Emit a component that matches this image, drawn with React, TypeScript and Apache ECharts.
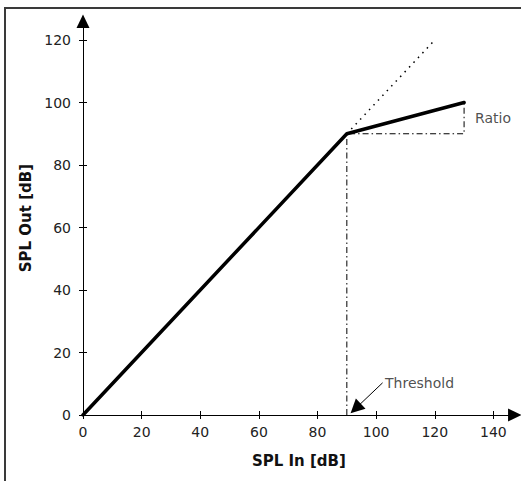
import React, { useEffect, useRef } from "react";
import * as echarts from "echarts";

// Tick values
const xTicks = [0, 20, 40, 60, 80, 100, 120, 140];
const yTicks = [0, 20, 40, 60, 80, 100, 120];

// Compressor transfer curve (input dB -> output dB)
const curveIn = [0, 90, 130];
const curveOut = [0, 90, 100];

// Unity (uncompressed) continuation above threshold
const unityIn = [90, 120];
const unityOut = [90, 120];

// Dash-dot guide lines (threshold drop line + ratio triangle)
const guideIn = [90, 90, 130, 130];
const guideOut = [0, 90, 90, 100];

// Annotation anchors (data coordinates)
const thresholdArrowFrom = [102.2, 10.3];
const thresholdArrowTo = [93.0, 2.1];
const annotationNames = ["Threshold", "Ratio"];
const annotationX = [102.7, 133.4];
const annotationY = [10.4, 95.1];

const X_MAX = 147.3;
const Y_MAX = 126;
const FONT = "DejaVu Sans";

export default function App() {
  const ref = useRef<HTMLDivElement>(null);

  useEffect(() => {
    if (!ref.current) return;
    const chart = echarts.init(ref.current, undefined, { renderer: "svg" });

    const zip = (a: number[], b: number[]) => a.map((v, i) => [v, b[i]]);

    const baseX = {
      type: "value" as const,
      min: 0,
      max: X_MAX,
      position: "bottom" as const,
      splitLine: { show: false },
    };
    const baseY = {
      type: "value" as const,
      min: 0,
      max: Y_MAX,
      position: "left" as const,
      splitLine: { show: false },
    };

    chart.setOption({
      animation: false,
      backgroundColor: "#ffffff",
      grid: { left: 83, right: 6.2, top: 21.25, bottom: 66 },
      graphic: [
        {
          type: "rect",
          shape: { x: 5, y: 8, width: 540, height: 500 },
          style: { fill: "none", stroke: "#3a3a3a", lineWidth: 2 },
          silent: true,
          z: -10,
        },
      ],
      xAxis: [
        {
          ...baseX,
          name: "SPL In [dB]",
          nameLocation: "middle",
          nameGap: 38,
          nameTextStyle: { fontFamily: FONT, fontWeight: "bold", fontSize: 15, color: "#111", verticalAlign: "top" },
          axisLine: {
            show: true,
            lineStyle: { color: "#000", width: 1 },
            symbol: ["none", "triangle"],
            symbolSize: [13, 13.5],
          },
          axisTick: { show: true, inside: false, length: 4, lineStyle: { color: "#000" }, customValues: xTicks },
          axisLabel: { fontFamily: FONT, fontSize: 14, color: "#222", margin: 10, customValues: xTicks },
        },
        {
          ...baseX,
          axisLine: { show: false },
          axisTick: { show: true, inside: true, length: 4, lineStyle: { color: "#000" }, customValues: xTicks },
          axisLabel: { show: false },
        },
      ],
      yAxis: [
        {
          ...baseY,
          name: "SPL Out [dB]",
          nameLocation: "middle",
          nameGap: 48,
          nameTextStyle: { fontFamily: FONT, fontWeight: "bold", fontSize: 15, color: "#111" },
          axisLine: {
            show: true,
            lineStyle: { color: "#000", width: 1 },
            symbol: ["none", "triangle"],
            symbolSize: [13, 13.5],
          },
          axisTick: { show: true, inside: false, length: 4, lineStyle: { color: "#000" }, customValues: yTicks },
          axisLabel: { fontFamily: FONT, fontSize: 14, color: "#222", margin: 12, customValues: yTicks },
        },
        {
          ...baseY,
          axisLine: { show: false },
          axisTick: { show: true, inside: true, length: 4, lineStyle: { color: "#000" }, customValues: yTicks },
          axisLabel: { show: false },
        },
      ],
      series: [
        {
          type: "line",
          data: zip(guideIn, guideOut),
          symbol: "none",
          silent: true,
          lineStyle: { color: "#000", width: 1, type: [6, 3, 1.5, 3] },
          markLine: {
            silent: true,
            symbol: ["none", "triangle"],
            symbolSize: 14,
            label: { show: false },
            lineStyle: { color: "#000", width: 1, type: "solid" },
            itemStyle: { color: "#000" },
            data: [[{ coord: thresholdArrowFrom }, { coord: thresholdArrowTo }]],
          },
        },
        {
          type: "line",
          data: zip(unityIn, unityOut),
          symbol: "none",
          silent: true,
          lineStyle: { color: "#000", width: 1.5, type: [1.5, 5] },
        },
        {
          type: "line",
          data: zip(curveIn, curveOut),
          symbol: "none",
          silent: true,
          lineStyle: { color: "#000", width: 3.5, cap: "round", join: "round" },
        },
        {
          type: "scatter",
          symbolSize: 0,
          silent: true,
          data: annotationNames.map((n, i) => ({ name: n, value: [annotationX[i], annotationY[i]] })),
          label: {
            show: true,
            position: "right",
            distance: 1,
            formatter: (p: any) => p.name,
            fontFamily: FONT,
            fontSize: 14,
            color: "#222",
          },
        },
      ],
    });

    return () => chart.dispose();
  }, []);

  return (
    <div
      ref={ref}
      style={{ position: "fixed", left: 0, top: 0, width: 521, height: 481, background: "#fff" }}
    />
  );
}
